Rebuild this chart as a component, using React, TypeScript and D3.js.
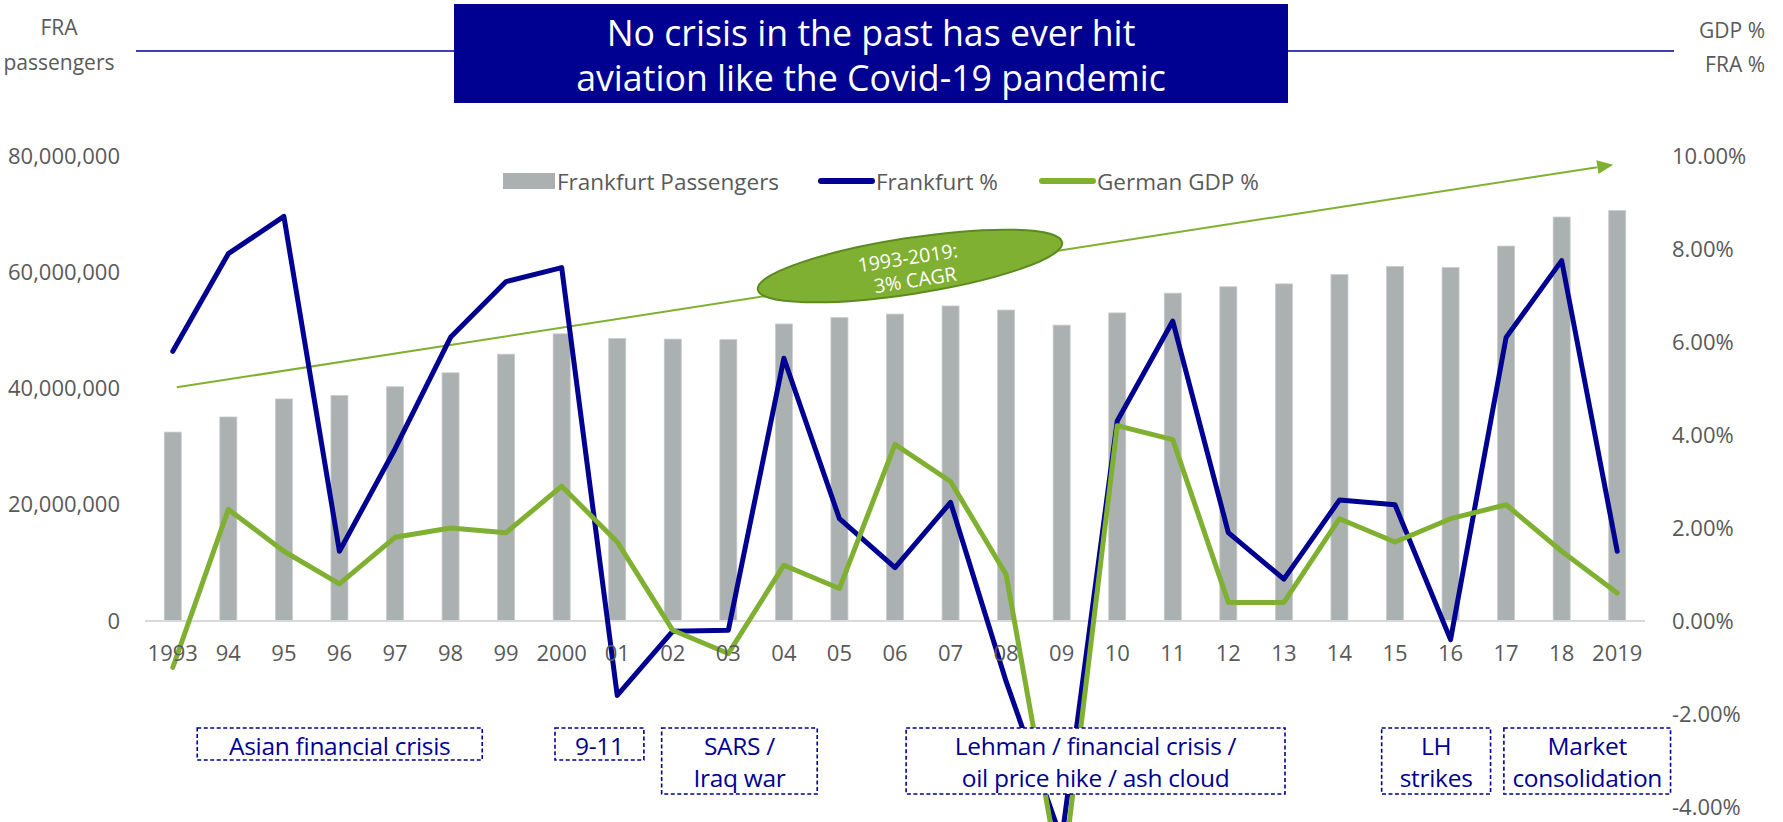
import React, { useRef, useEffect } from "react";
import * as d3 from "d3";

const years = [
  "1993", "94", "95", "96", "97", "98", "99", "2000", "01", "02", "03", "04", "05", "06",
  "07", "08", "09", "10", "11", "12", "13", "14", "15", "16", "17", "18", "2019",
];
// Frankfurt passengers (millions)
const passengers = [
  32.5, 35.1, 38.2, 38.8, 40.3, 42.7, 45.9, 49.4, 48.6, 48.5, 48.4, 51.1, 52.2, 52.8,
  54.2, 53.5, 50.9, 53.0, 56.4, 57.5, 58.0, 59.6, 61.0, 60.8, 64.5, 69.5, 70.6,
];
// Frankfurt % change
const fraPct = [
  5.8, 7.9, 8.7, 1.5, 3.7, 6.1, 7.3, 7.6, -1.6, -0.22, -0.2, 5.65, 2.2, 1.15,
  2.55, -1.3, -4.7, 4.3, 6.45, 1.9, 0.9, 2.6, 2.5, -0.4, 6.1, 7.75, 1.5,
];
// German GDP % change
const gdpPct = [
  -1.0, 2.4, 1.5, 0.8, 1.8, 2.0, 1.9, 2.9, 1.7, -0.2, -0.7, 1.2, 0.7, 3.8,
  3.0, 1.0, -5.7, 4.2, 3.9, 0.4, 0.4, 2.2, 1.7, 2.2, 2.5, 1.5, 0.6,
];
const leftTicks = [0, 20e6, 40e6, 60e6, 80e6];
const rightTicks = [-4, -2, 0, 2, 4, 6, 8, 10];
// trend arrow (passenger scale), 1993 -> 2019
const trendStart = 40.2e6;
const trendEnd = 78.5e6;

const legendItems = ["Frankfurt Passengers", "Frankfurt %", "German GDP %"];

// crisis notes, spanning fractional category positions
const notes = [
  { lines: ["Asian financial crisis"], from: 0.44, to: 5.57 },
  { lines: ["9-11"], from: 6.88, to: 8.48 },
  { lines: ["SARS /", "Iraq war"], from: 8.8, to: 11.6 },
  { lines: ["Lehman / financial crisis /", "oil price hike / ash cloud"], from: 13.2, to: 20.02 },
  { lines: ["LH", "strikes"], from: 21.76, to: 23.72 },
  { lines: ["Market", "consolidation"], from: 23.96, to: 26.96 },
];

const W = 1783;
const H = 822;
const FONT = "'Open Sans', sans-serif";
const NAVY = "#000091";
const GREEN = "#80b031";
const GREY_TXT = "#595959";

const App = () => {
  const svgRef = useRef<SVGSVGElement>(null);

  useEffect(() => {
    svgRef.current!.innerHTML = "";
    const svg = d3.select(svgRef.current);

    const plotLeft = 145;
    const plotRight = 1645;

    const x = d3.scaleBand().domain(years).range([plotLeft, plotRight]);
    const xIdx = d3.scaleLinear().domain([-0.5, years.length - 0.5]).range([plotLeft, plotRight]);
    const yLeft = d3.scaleLinear().domain([0, 80e6]).range([621, 156]);
    const yRight = d3.scaleLinear().domain([-4, 10]).range([807, 156]);
    const cx = (d: string) => x(d)! + x.bandwidth() / 2;

    //Header
    svg.append("line")
      .attr("x1", 136).attr("x2", 1674).attr("y1", 51).attr("y2", 51)
      .attr("stroke", NAVY).attr("stroke-width", 1.5);

    svg.append("rect")
      .attr("x", 454).attr("y", 4).attr("width", 834).attr("height", 99)
      .attr("fill", NAVY);

    svg.append("g")
      .selectAll("text")
      .data(["No crisis in the past has ever hit", "aviation like the Covid-19 pandemic"])
      .enter()
      .append("text")
      .attr("x", 871)
      .attr("y", (_, i) => 32 + i * 45)
      .attr("text-anchor", "middle")
      .attr("dominant-baseline", "central")
      .attr("fill", "#fff")
      .style("font-size", "35.7px")
      .text((d) => d);

    svg.append("g")
      .selectAll("text")
      .data(["FRA", "passengers"])
      .enter()
      .append("text")
      .attr("x", 59)
      .attr("y", (_, i) => 27 + i * 35)
      .attr("text-anchor", "middle")
      .attr("dominant-baseline", "central")
      .attr("fill", GREY_TXT)
      .style("font-size", "21px")
      .text((d) => d);

    svg.append("g")
      .selectAll("text")
      .data(["GDP %", "FRA %"])
      .enter()
      .append("text")
      .attr("x", 1765)
      .attr("y", (_, i) => 30 + i * 34)
      .attr("text-anchor", "end")
      .attr("dominant-baseline", "central")
      .attr("fill", GREY_TXT)
      .style("font-size", "21px")
      .text((d) => d);

    //Bars
    svg.append("g")
      .selectAll("rect")
      .data(passengers)
      .enter()
      .append("rect")
      .attr("x", (_, i) => cx(years[i]) - 8.5)
      .attr("y", (d) => yLeft(d * 1e6))
      .attr("width", 17)
      .attr("height", (d) => yLeft(0) - yLeft(d * 1e6))
      .attr("fill", "#abb0b0")
      .attr("stroke", "#c8cbcb")
      .attr("stroke-width", 0.8);

    //Baseline
    svg.append("line")
      .attr("x1", plotLeft).attr("x2", plotRight)
      .attr("y1", yLeft(0)).attr("y2", yLeft(0))
      .attr("stroke", "#d9d9d9").attr("stroke-width", 2);

    //Trend arrow
    const tx0 = cx(years[0]) + 4;
    const tx1 = cx(years[years.length - 1]) - 4;
    const ty0 = yLeft(trendStart);
    const ty1 = yLeft(trendEnd);
    const ang = Math.atan2(ty1 - ty0, tx1 - tx0);
    const headLen = 16;
    const bx = tx1 - headLen * Math.cos(ang);
    const by = ty1 - headLen * Math.sin(ang);
    svg.append("line")
      .attr("x1", tx0).attr("y1", ty0).attr("x2", bx).attr("y2", by)
      .attr("stroke", GREEN).attr("stroke-width", 2);
    const nx = -Math.sin(ang) * 7;
    const ny = Math.cos(ang) * 7;
    svg.append("path")
      .attr("d", `M${tx1},${ty1}L${bx + nx},${by + ny}L${bx - nx},${by - ny}Z`)
      .attr("fill", GREEN);

    //CAGR ellipse
    const deg = (ang * 180) / Math.PI;
    const eg = svg.append("g").attr("transform", `translate(910,266) rotate(${deg})`);
    eg.append("ellipse")
      .attr("rx", 154).attr("ry", 28)
      .attr("fill", GREEN).attr("stroke", "#5b8b1f").attr("stroke-width", 2);
    eg.selectAll("text")
      .data(["1993-2019:", "3% CAGR"])
      .enter()
      .append("text")
      .attr("x", (_, i) => -1 + i * 4)
      .attr("y", (_, i) => -9 + i * 23)
      .attr("text-anchor", "middle")
      .attr("dominant-baseline", "central")
      .attr("fill", "#fff")
      .style("font-size", "19.5px")
      .text((d) => d);

    //Lines
    const lineGen = d3
      .line<number>()
      .x((_, i) => cx(years[i]))
      .y((d) => yRight(d));

    svg.append("path")
      .attr("d", lineGen(fraPct)!)
      .attr("fill", "none")
      .attr("stroke", NAVY)
      .attr("stroke-width", 5)
      .attr("stroke-linejoin", "round")
      .attr("stroke-linecap", "round");

    svg.append("path")
      .attr("d", lineGen(gdpPct)!)
      .attr("fill", "none")
      .attr("stroke", GREEN)
      .attr("stroke-width", 5)
      .attr("stroke-linejoin", "round")
      .attr("stroke-linecap", "round");

    //Axes
    const leftAxis = svg.append("g")
      .attr("transform", "translate(120,0)")
      .call(d3.axisLeft(yLeft).tickValues(leftTicks).tickSize(0).tickPadding(0).tickFormat(d3.format(",")));
    const rightAxis = svg.append("g")
      .attr("transform", "translate(1672,0)")
      .call(
        d3.axisRight(yRight).tickValues(rightTicks).tickSize(0).tickPadding(0)
          .tickFormat((d) => (d as number).toFixed(2) + "%")
      );
    const bottomAxis = svg.append("g")
      .attr("transform", "translate(0,645)")
      .call(d3.axisBottom(x).tickSize(0).tickPadding(0));

    [leftAxis, rightAxis, bottomAxis].forEach((a) => {
      a.select(".domain").remove();
      a.selectAll("text")
        .attr("fill", GREY_TXT)
        .style("font-family", FONT)
        .style("font-size", "22px");
    });
    bottomAxis.selectAll("text").attr("dy", "0.71em").attr("y", 0);

    //Legend
    const lg = svg.append("g").attr("transform", "translate(0,181)");
    lg.append("rect")
      .attr("x", 503).attr("y", -8).attr("width", 52).attr("height", 16)
      .attr("fill", "#abb0b0");
    lg.append("line")
      .attr("x1", 821).attr("x2", 872).attr("y1", 0).attr("y2", 0)
      .attr("stroke", NAVY).attr("stroke-width", 6).attr("stroke-linecap", "round");
    lg.append("line")
      .attr("x1", 1042).attr("x2", 1093).attr("y1", 0).attr("y2", 0)
      .attr("stroke", GREEN).attr("stroke-width", 6).attr("stroke-linecap", "round");
    lg.selectAll("text")
      .data(legendItems)
      .enter()
      .append("text")
      .attr("x", (_, i) => [557, 876, 1097][i])
      .attr("y", 0)
      .attr("dominant-baseline", "central")
      .attr("fill", GREY_TXT)
      .style("font-size", "22.5px")
      .text((d) => d);

    //Crisis notes
    const ng = svg.append("g");
    notes.forEach((n) => {
      const x0 = xIdx(n.from);
      const x1 = xIdx(n.to);
      const h = n.lines.length === 1 ? 32 : 66;
      ng.append("rect")
        .attr("x", x0).attr("y", 728).attr("width", x1 - x0).attr("height", h)
        .attr("fill", "#fff")
        .attr("stroke", NAVY)
        .attr("stroke-width", 1.6)
        .attr("stroke-dasharray", "4,2.5");
      ng.append("g")
        .selectAll("text")
        .data(n.lines)
        .enter()
        .append("text")
        .attr("x", (x0 + x1) / 2)
        .attr("y", (_, i) => 745 + i * 32)
        .attr("text-anchor", "middle")
        .attr("dominant-baseline", "central")
        .attr("fill", NAVY)
        .style("font-size", "24.5px")
        .style("letter-spacing", "-0.3px")
        .text((d) => d);
    });
  }, []);

  return (
    <svg
      ref={svgRef}
      width={W}
      height={H}
      style={{ position: "absolute", left: 0, top: 0, fontFamily: FONT, background: "#fff" }}
    ></svg>
  );
};

export default App;
